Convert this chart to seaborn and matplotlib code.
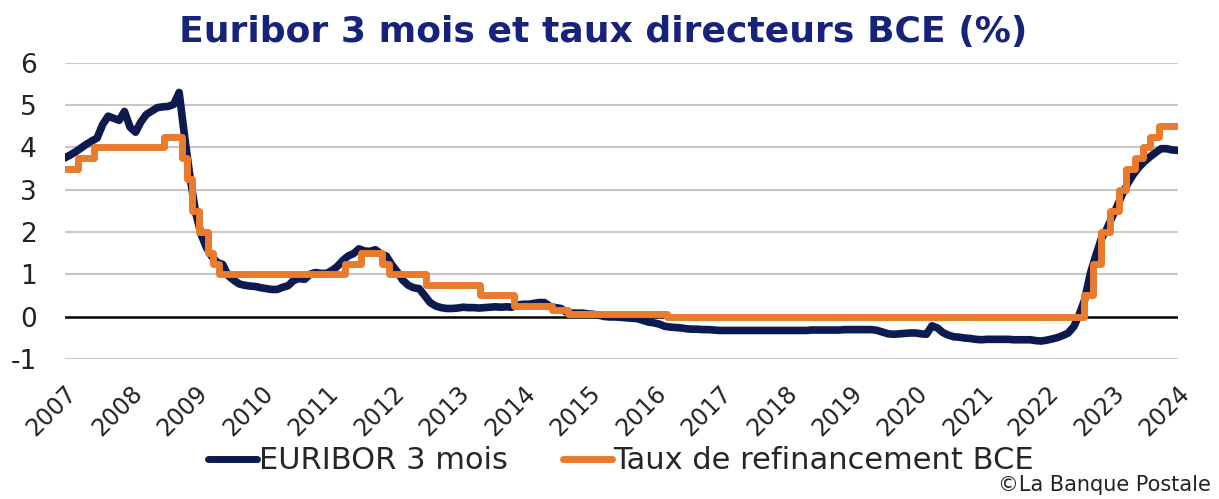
import numpy as np
import pandas as pd
import matplotlib
matplotlib.use("Agg")
import matplotlib.pyplot as plt
import seaborn as sns

# ---------------- data ----------------
euribor_dates = pd.date_range("2007-01-01", "2024-01-01", freq="MS")
euribor_values = [
    3.75, 3.82, 3.89, 3.98, 4.07, 4.15, 4.22, 4.54, 4.74, 4.69, 4.64, 4.85,   # 2007
    4.48, 4.36, 4.60, 4.78, 4.86, 4.94, 4.96, 4.97, 5.02, 5.30, 4.24, 3.29,   # 2008
    2.46, 1.94, 1.64, 1.42, 1.28, 1.23, 0.97, 0.86, 0.77, 0.74, 0.72, 0.71,   # 2009
    0.68, 0.66, 0.64, 0.64, 0.69, 0.73, 0.85, 0.90, 0.88, 1.00, 1.04, 1.02,   # 2010
    1.02, 1.09, 1.18, 1.32, 1.43, 1.49, 1.60, 1.55, 1.54, 1.58, 1.48, 1.43,   # 2011
    1.22, 1.05, 0.86, 0.74, 0.68, 0.66, 0.50, 0.33, 0.25, 0.21, 0.19, 0.19,   # 2012
    0.20, 0.22, 0.21, 0.21, 0.20, 0.21, 0.22, 0.23, 0.22, 0.23, 0.22, 0.27,   # 2013
    0.29, 0.29, 0.31, 0.33, 0.33, 0.24, 0.21, 0.19, 0.10, 0.08, 0.08, 0.08,   # 2014
    0.06, 0.05, 0.03, 0.00, -0.01, -0.01, -0.02, -0.03, -0.04, -0.05, -0.09, -0.13,  # 2015
    -0.15, -0.18, -0.23, -0.25, -0.26, -0.27, -0.29, -0.30, -0.30, -0.31, -0.31, -0.32,  # 2016
    -0.33, -0.33, -0.33, -0.33, -0.33, -0.33, -0.33, -0.33, -0.33, -0.33, -0.33, -0.33,  # 2017
    -0.33, -0.33, -0.33, -0.33, -0.33, -0.32, -0.32, -0.32, -0.32, -0.32, -0.32, -0.31,  # 2018
    -0.31, -0.31, -0.31, -0.31, -0.31, -0.33, -0.37, -0.41, -0.42, -0.41, -0.40, -0.39,  # 2019
    -0.39, -0.41, -0.42, -0.22, -0.27, -0.38, -0.44, -0.48, -0.49, -0.51, -0.52, -0.54,  # 2020
    -0.55, -0.54, -0.54, -0.54, -0.54, -0.54, -0.55, -0.55, -0.55, -0.55, -0.57, -0.58,  # 2021
    -0.56, -0.53, -0.50, -0.45, -0.39, -0.24, 0.04, 0.40, 1.01, 1.43, 1.83, 2.06,        # 2022
    2.35, 2.64, 2.91, 3.17, 3.37, 3.54, 3.67, 3.78, 3.88, 3.97, 3.97, 3.94,              # 2023
    3.93,                                                                                 # 2024
]

ecb_dates = pd.to_datetime([
    "2007-01-01", "2007-03-14", "2007-06-13", "2008-07-09", "2008-10-15",
    "2008-11-12", "2008-12-10", "2009-01-21", "2009-03-11", "2009-04-08",
    "2009-05-13", "2011-04-13", "2011-07-13", "2011-11-09", "2011-12-14",
    "2012-07-11", "2013-05-08", "2013-11-13", "2014-06-11", "2014-09-10",
    "2016-03-16", "2022-07-27", "2022-09-14", "2022-11-02", "2022-12-21",
    "2023-02-08", "2023-03-22", "2023-05-10", "2023-06-21", "2023-08-02",
    "2023-09-20", "2024-01-01",
])
ecb_values = [
    3.50, 3.75, 4.00, 4.25, 3.75,
    3.25, 2.50, 2.00, 1.50, 1.25,
    1.00, 1.25, 1.50, 1.25, 1.00,
    0.75, 0.50, 0.25, 0.15, 0.05,
    0.00, 0.50, 1.25, 2.00, 2.50,
    3.00, 3.50, 3.75, 4.00, 4.25,
    4.50, 4.50,
]

year_ticks = list(range(2007, 2025))
y_ticks = [-1, 0, 1, 2, 3, 4, 5, 6]

title = "Euribor 3 mois et taux directeurs BCE (%)"
label_euribor = "EURIBOR 3 mois"
label_ecb = "Taux de refinancement BCE"
source = "©La Banque Postale"

NAVY = "#0d1a4f"
ORANGE = "#ea7a2c"
TITLE_C = "#17237a"

# ---------------- plot ----------------
sns.set_theme(style="white")
plt.rcParams["font.family"] = ["DejaVu Sans"]

fig = plt.figure(figsize=(12.19, 4.99), dpi=100)
ax = fig.add_axes([0.053, 0.281, 0.913, 0.593])

df_e = pd.DataFrame({"date": euribor_dates, "value": euribor_values})
df_b = pd.DataFrame({"date": ecb_dates, "value": ecb_values})

for y in y_ticks:
    if y == 0:
        ax.axhline(0, color="black", lw=1.8, zorder=1)
    else:
        ax.axhline(y, color="#c8c8c8", lw=1.5, zorder=0)

sns.lineplot(data=df_e, x="date", y="value", ax=ax, color=NAVY, lw=5.5,
             label=label_euribor, zorder=3, solid_capstyle="round",
             solid_joinstyle="round")
sns.lineplot(data=df_b, x="date", y="value", ax=ax, color=ORANGE, lw=5,
             label=label_ecb, zorder=4, drawstyle="steps-post",
             solid_joinstyle="round")

ax.set_xlim(pd.Timestamp("2007-01-01"), pd.Timestamp("2024-01-01"))
ax.set_ylim(-1, 6)
ax.set_yticks(y_ticks)
ax.set_yticklabels([str(v) for v in y_ticks], fontsize=19, color="#222222")
ax.set_xticks([pd.Timestamp(f"{y}-01-01") for y in year_ticks])
ax.set_xticklabels([str(y) for y in year_ticks], rotation=45, ha="right",
                   rotation_mode="anchor", fontsize=17, color="#222222")
ax.tick_params(axis="x", pad=16, length=0)
ax.tick_params(axis="y", pad=20, length=0)
ax.set_xlabel("")
ax.set_ylabel("")
for s in ax.spines.values():
    s.set_visible(False)
ax.grid(False)

leg = ax.legend(loc="center", bbox_to_anchor=(0.5, -0.345), ncol=2,
                frameon=False, fontsize=22, handlelength=1.6,
                handletextpad=0.05, columnspacing=1.8)
for h in leg.get_lines():
    h.set_linewidth(5)

fig.text(0.495, 0.935, title, ha="center", va="center", fontsize=26,
         fontweight="bold", color=TITLE_C)
fig.text(0.993, 0.008, source, ha="right", va="bottom", fontsize=15,
         color="#222222")

fig.savefig("out.png", dpi=100)
